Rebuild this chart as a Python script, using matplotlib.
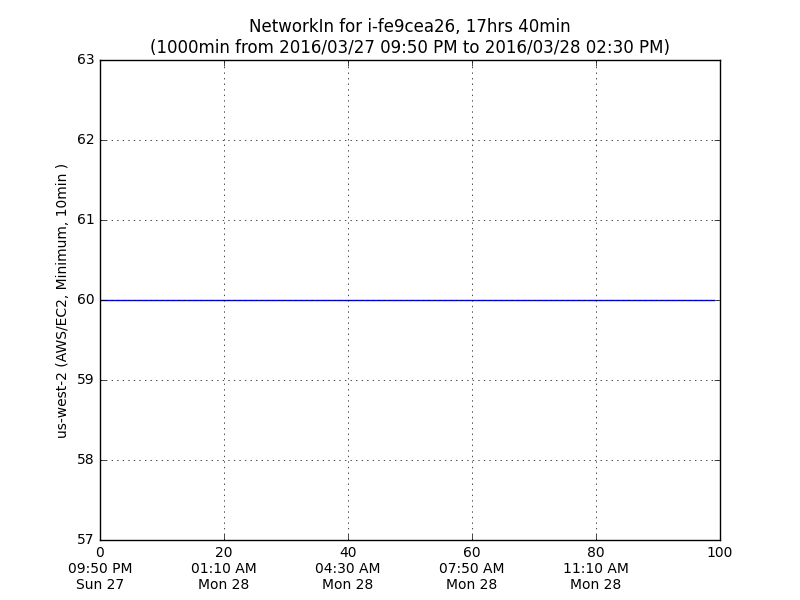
import matplotlib
matplotlib.use("Agg")
import matplotlib.pyplot as plt
import numpy as np

plt.style.use("classic")

x_vals = list(range(100))
y_vals = [60] * 100
xtick_pos = [0, 20, 40, 60, 80, 100]
xtick_labels = ["0\n09:50 PM\nSun 27", "20\n01:10 AM\nMon 28", "40\n04:30 AM\nMon 28",
                "60\n07:50 AM\nMon 28", "80\n11:10 AM\nMon 28", "100"]
title = "NetworkIn for i-fe9cea26, 17hrs 40min\n(1000min from 2016/03/27 09:50 PM to 2016/03/28 02:30 PM)"
ylabel = "us-west-2 (AWS/EC2, Minimum, 10min )"

fig = plt.figure(figsize=(8, 6), dpi=100, facecolor="white")
ax = fig.add_axes([0.125, 0.1, 0.775, 0.8])
ax.plot(x_vals, y_vals, color="blue", linewidth=1)
ax.set_xlim(0, 100)
ax.set_ylim(57, 63)
ax.set_xticks(xtick_pos)
ax.set_xticklabels(xtick_labels, fontsize=10)
ax.tick_params(axis="y", labelsize=10)
ax.set_title(title, fontsize=12)
ax.set_ylabel(ylabel, fontsize=10)
ax.grid(True, color="black", linestyle=":", linewidth=0.5)
fig.savefig("out.png", dpi=100, facecolor="white")
